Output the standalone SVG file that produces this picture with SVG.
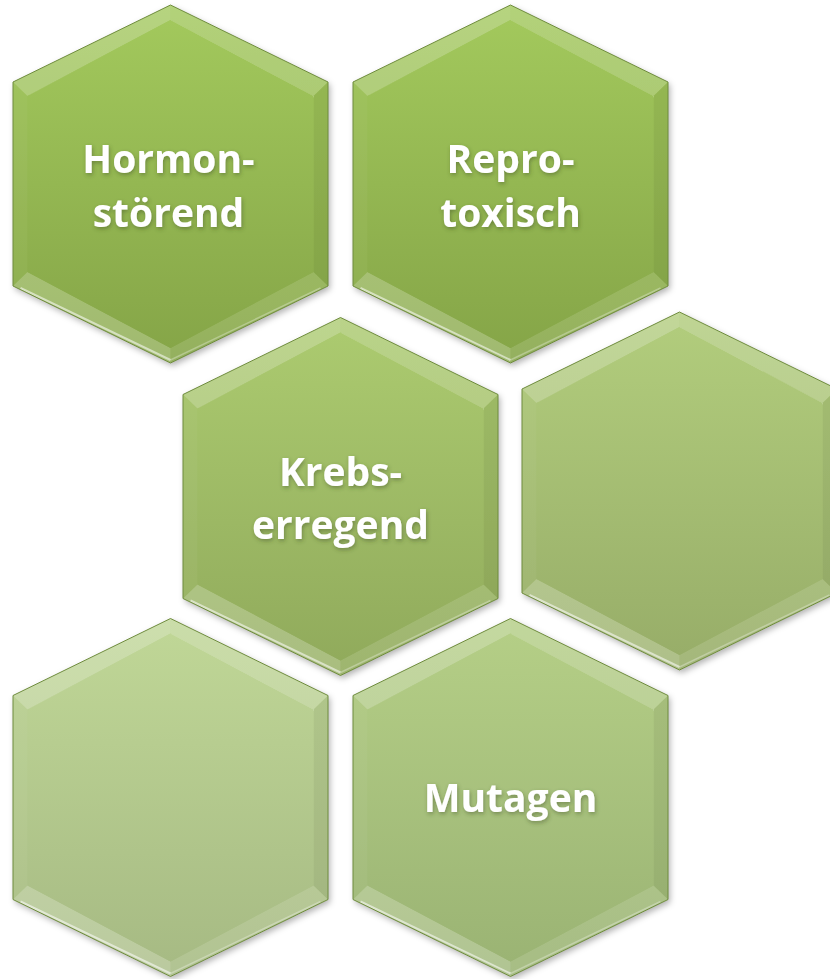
<svg xmlns="http://www.w3.org/2000/svg" width="830" height="979" viewBox="0 0 830 979">
<style>
.lbl{font-family:"Open Sans","Liberation Sans",sans-serif;font-weight:700;font-size:39px;fill:#ffffff;text-anchor:middle;filter:url(#tsh)}
.edge{fill:none;stroke:#6f8c3e;stroke-width:1}
</style>
<defs>
<filter id="sh" x="-10%" y="-10%" width="120%" height="120%">
<feDropShadow dx="2" dy="3" stdDeviation="3" flood-color="#000" flood-opacity="0.3"/>
</filter>
<filter id="tsh" x="-10%" y="-20%" width="120%" height="150%">
<feDropShadow dx="1" dy="2" stdDeviation="2" flood-color="#3a4a20" flood-opacity="0.45"/>
</filter>
<linearGradient id="g1" x1="0" y1="0" x2="0" y2="1"><stop offset="0" stop-color="#a2c85c"/><stop offset="1" stop-color="#86a648"/></linearGradient>
<linearGradient id="g3" x1="0" y1="0" x2="0" y2="1"><stop offset="0" stop-color="#abca6f"/><stop offset="1" stop-color="#91ab5c"/></linearGradient>
<linearGradient id="g4" x1="0" y1="0" x2="0" y2="1"><stop offset="0" stop-color="#b1cc7c"/><stop offset="1" stop-color="#98ae69"/></linearGradient>
<linearGradient id="g5" x1="0" y1="0" x2="0" y2="1"><stop offset="0" stop-color="#bfd696"/><stop offset="1" stop-color="#a7bb84"/></linearGradient>
<linearGradient id="g6" x1="0" y1="0" x2="0" y2="1"><stop offset="0" stop-color="#b4ce86"/><stop offset="1" stop-color="#9bb474"/></linearGradient>
<polygon id="hx" points="0,-179 157.5,-102 157.5,102 0,179 -157.5,102 -157.5,-102"/>
<polygon id="hi" points="0,-164 143,-88 143,88 0,164 -143,88 -143,-88"/>
<g id="bevel">
<polygon points="0,-179 157.5,-102 143,-88 0,-164" fill="#fff" fill-opacity="0.18"/>
<polygon points="157.5,-102 157.5,102 143,88 143,-88" fill="#000" fill-opacity="0.05"/>
<polygon points="157.5,102 0,179 0,164 143,88" fill="#fff" fill-opacity="0.12"/>
<polygon points="0,179 -157.5,102 -143,88 0,164" fill="#fff" fill-opacity="0.22"/>
<polygon points="-157.5,102 -157.5,-102 -143,-88 -143,88" fill="#fff" fill-opacity="0.04"/>
<polygon points="-157.5,-102 0,-179 0,-164 -143,-88" fill="#fff" fill-opacity="0.22"/>
<polyline points="0,-163 143,-87" fill="none" stroke="#fff" stroke-opacity="0.55" stroke-width="1.5"/>
<polyline points="-141,-88 0,-162" fill="none" stroke="#fff" stroke-opacity="0.3" stroke-width="1.5"/>
<polyline points="-150,104 0,176" fill="none" stroke="#fff" stroke-opacity="0.55" stroke-width="2"/>
<polyline points="0,176 150,104" fill="none" stroke="#fff" stroke-opacity="0.3" stroke-width="1.5"/>
</g>
</defs>
<rect width="830" height="979" fill="#ffffff"/>
<g id="connectors"/>
<g id="hex-hormon" transform="translate(170.5,184)">
<use href="#hx" fill="url(#g1)" filter="url(#sh)"/>
<use href="#bevel"/>
<use href="#hi" fill="url(#g1)"/>
<use href="#hx" class="edge"/>
<text class="lbl" x="-2" y="-11">Hormon-</text>
<text class="lbl" x="-2" y="43">störend</text>
</g>
<g id="hex-repro" transform="translate(510.5,184)">
<use href="#hx" fill="url(#g1)" filter="url(#sh)"/>
<use href="#bevel"/>
<use href="#hi" fill="url(#g1)"/>
<use href="#hx" class="edge"/>
<text class="lbl" x="0" y="-11">Repro-</text>
<text class="lbl" x="0" y="43">toxisch</text>
</g>
<g id="hex-krebs" transform="translate(340.5,496.5)">
<use href="#hx" fill="url(#g3)" filter="url(#sh)"/>
<use href="#bevel"/>
<use href="#hi" fill="url(#g3)"/>
<use href="#hx" class="edge"/>
<text class="lbl" x="0" y="-11">Krebs-</text>
<text class="lbl" x="0" y="42">erregend</text>
</g>
<g id="hex-empty-right" transform="translate(679.5,491)">
<use href="#hx" fill="url(#g4)" filter="url(#sh)"/>
<use href="#bevel"/>
<use href="#hi" fill="url(#g4)"/>
<use href="#hx" class="edge"/>
</g>
<g id="hex-empty-left" transform="translate(170.5,797.5)">
<use href="#hx" fill="url(#g5)" filter="url(#sh)"/>
<use href="#bevel"/>
<use href="#hi" fill="url(#g5)"/>
<use href="#hx" class="edge"/>
</g>
<g id="hex-mutagen" transform="translate(510.5,797.5)">
<use href="#hx" fill="url(#g6)" filter="url(#sh)"/>
<use href="#bevel"/>
<use href="#hi" fill="url(#g6)"/>
<use href="#hx" class="edge"/>
<text class="lbl" x="0" y="14">Mutagen</text>
</g>
</svg>
